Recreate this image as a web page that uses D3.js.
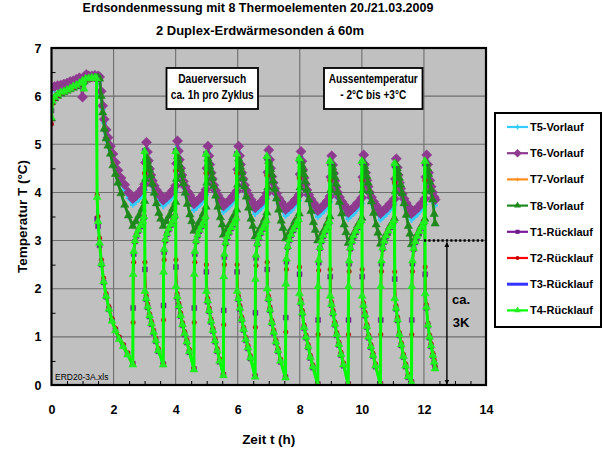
<!DOCTYPE html>
<html>
<head>
<meta charset="utf-8">
<script src="https://cdn.jsdelivr.net/npm/d3@7"></script>
<style>
  body { margin: 0; background: #fff; }
  svg text { font-family: "Liberation Sans", Arial, sans-serif; fill: #000; }
  .bold { font-weight: bold; }
</style>
</head>
<body>
<svg id="chart" width="604" height="452"></svg>
<script>
// axis ticks
const xTicks = [0, 2, 4, 6, 8, 10, 12, 14];
const yTicks = [0, 1, 2, 3, 4, 5, 6, 7];

// Vorlauf (T5..T8): shared time axis in hours
const vlZeit = [
  0, 0.1, 0.2, 0.3, 0.4, 0.5, 0.6, 0.7, 0.8, 0.9, 1.0, 1.05, 1.12, 1.2, 1.3, 1.4, 1.5, 1.55,
  1.6, 1.65, 1.7, 1.76, 1.82, 1.9, 1.98, 2.06, 2.14, 2.24, 2.36, 2.48, 2.62,
  2.72, 2.82, 2.92, 3.0, 3.03, 3.06, 3.09, 3.12, 3.16, 3.2, 3.25, 3.31, 3.38, 3.46, 3.52, 3.6,
  3.7, 3.8, 3.9, 4.0, 4.03, 4.06, 4.09, 4.12, 4.16, 4.2, 4.25, 4.31, 4.38, 4.46, 4.52, 4.59,
  4.69, 4.79, 4.89, 4.98, 5.01, 5.04, 5.07, 5.1, 5.14, 5.18, 5.23, 5.29, 5.36, 5.44, 5.5, 5.54,
  5.64, 5.74, 5.84, 5.97, 6.0, 6.03, 6.06, 6.09, 6.13, 6.17, 6.22, 6.28, 6.35, 6.43, 6.49, 6.56,
  6.66, 6.76, 6.86, 6.94, 6.97, 7.0, 7.03, 7.06, 7.1, 7.14, 7.19, 7.25, 7.32, 7.4, 7.46, 7.54,
  7.64, 7.74, 7.84, 7.98, 8.01, 8.04, 8.07, 8.1, 8.14, 8.18, 8.23, 8.29, 8.36, 8.44, 8.5, 8.58,
  8.68, 8.78, 8.88, 8.97, 9.0, 9.03, 9.06, 9.09, 9.13, 9.17, 9.22, 9.28, 9.35, 9.43, 9.49, 9.56,
  9.66, 9.76, 9.86, 10.0, 10.03, 10.06, 10.09, 10.12, 10.16, 10.2, 10.25, 10.31, 10.38, 10.46, 10.52, 10.6,
  10.7, 10.8, 10.9, 11.05, 11.08, 11.11, 11.14, 11.17, 11.21, 11.25, 11.3, 11.36, 11.43, 11.5, 11.55, 11.6,
  11.7, 11.8, 11.9, 12.03, 12.06, 12.09, 12.12, 12.15, 12.19, 12.23, 12.28, 12.33, 12.36
];

const t5 = [
  6.1, 6.14, 6.17, 6.19, 6.21, 6.23, 6.26, 6.28, 6.31, 6.34, 6.36, 6.37, 6.4, 6.39, 6.39, 6.4, 6.39, 6.37,
  6.02, 5.72, 5.44, 5.22, 5.05, 4.86, 4.7, 4.52, 4.36, 4.19, 4.04, 3.88, 3.74,
  3.8, 3.86, 3.94, 4.05, 4.5, 4.92, 4.72, 4.54, 4.37, 4.24, 4.12, 4.02, 3.93, 3.86, 3.8, 3.71,
  3.77, 3.83, 3.91, 4.02, 4.48, 4.95, 4.74, 4.56, 4.38, 4.24, 4.11, 4.0, 3.9, 3.82, 3.75, 3.63,
  3.69, 3.75, 3.83, 3.94, 4.38, 4.84, 4.64, 4.46, 4.29, 4.16, 4.03, 3.92, 3.82, 3.74, 3.68, 3.59,
  3.65, 3.71, 3.79, 3.91, 4.36, 4.84, 4.64, 4.46, 4.29, 4.16, 4.03, 3.92, 3.82, 3.73, 3.66, 3.55,
  3.61, 3.67, 3.75, 3.86, 4.3, 4.76, 4.56, 4.38, 4.21, 4.08, 3.96, 3.86, 3.76, 3.68, 3.62, 3.51,
  3.57, 3.63, 3.71, 3.83, 4.26, 4.73, 4.53, 4.35, 4.18, 4.05, 3.93, 3.83, 3.74, 3.66, 3.6, 3.49,
  3.55, 3.61, 3.69, 3.8, 4.2, 4.64, 4.45, 4.28, 4.12, 3.99, 3.88, 3.78, 3.69, 3.62, 3.56, 3.45,
  3.51, 3.57, 3.65, 3.77, 4.2, 4.66, 4.46, 4.29, 4.13, 4.0, 3.88, 3.78, 3.69, 3.61, 3.55, 3.43,
  3.49, 3.55, 3.63, 3.75, 4.16, 4.58, 4.4, 4.24, 4.08, 3.96, 3.85, 3.75, 3.66, 3.58, 3.52, 3.43,
  3.49, 3.55, 3.63, 3.75, 4.2, 4.66, 4.46, 4.29, 4.13, 4.0, 3.88, 3.78, 3.73
];

const t6 = [
  6.18, 6.2, 6.22, 6.23, 6.25, 6.27, 6.3, 6.32, 6.35, 6.38, 5.98, 6.4, 6.45, 6.42, 6.42, 6.43, 6.42, 6.4,
  6.1, 5.8, 5.52, 5.3, 5.14, 4.96, 4.8, 4.62, 4.46, 4.3, 4.16, 4.0, 3.87,
  3.93, 3.99, 4.07, 4.17, 4.62, 5.04, 4.84, 4.66, 4.49, 4.36, 4.24, 4.14, 4.05, 3.98, 3.92, 3.84,
  3.9, 3.96, 4.04, 4.14, 4.6, 5.07, 4.86, 4.68, 4.5, 4.36, 4.23, 4.12, 4.02, 3.94, 3.87, 3.76,
  3.82, 3.88, 3.96, 4.06, 4.5, 4.96, 4.76, 4.58, 4.41, 4.28, 4.15, 4.04, 3.94, 3.86, 3.8, 3.72,
  3.78, 3.84, 3.92, 4.03, 4.48, 4.96, 4.76, 4.58, 4.41, 4.28, 4.15, 4.04, 3.94, 3.85, 3.78, 3.68,
  3.74, 3.8, 3.88, 3.98, 4.42, 4.88, 4.68, 4.5, 4.33, 4.2, 4.08, 3.98, 3.88, 3.8, 3.74, 3.64,
  3.7, 3.76, 3.84, 3.95, 4.38, 4.85, 4.65, 4.47, 4.3, 4.17, 4.05, 3.95, 3.86, 3.78, 3.72, 3.62,
  3.68, 3.74, 3.82, 3.92, 4.32, 4.76, 4.57, 4.4, 4.24, 4.11, 4.0, 3.9, 3.81, 3.74, 3.68, 3.58,
  3.64, 3.7, 3.78, 3.89, 4.32, 4.78, 4.58, 4.41, 4.25, 4.12, 4.0, 3.9, 3.81, 3.73, 3.67, 3.56,
  3.62, 3.68, 3.76, 3.87, 4.28, 4.7, 4.52, 4.36, 4.2, 4.08, 3.97, 3.87, 3.78, 3.7, 3.64, 3.56,
  3.62, 3.68, 3.76, 3.87, 4.32, 4.78, 4.58, 4.41, 4.25, 4.12, 4.0, 3.9, 3.85
];

const t7 = [
  5.9, 5.98, 6.03, 6.07, 6.1, 6.13, 6.16, 6.19, 6.22, 6.26, 6.3, 6.32, 6.36, 6.37, 6.38, 6.39, 6.39, 6.37,
  6.03, 5.69, 5.36, 5.16, 5.0, 4.83, 4.6, 4.41, 4.23, 4.01, 3.77, 3.55, 3.33,
  3.43, 3.55, 3.69, 3.85, 4.32, 4.76, 4.68, 4.6, 4.5, 4.38, 4.21, 4.02, 3.8, 3.6, 3.48, 3.33,
  3.43, 3.55, 3.69, 3.83, 4.32, 4.78, 4.7, 4.61, 4.51, 4.39, 4.22, 4.02, 3.79, 3.57, 3.43, 3.23,
  3.33, 3.45, 3.59, 3.73, 4.24, 4.73, 4.65, 4.56, 4.46, 4.33, 4.16, 3.96, 3.73, 3.51, 3.36, 3.15,
  3.25, 3.37, 3.51, 3.67, 4.2, 4.73, 4.65, 4.56, 4.45, 4.32, 4.15, 3.94, 3.71, 3.48, 3.33, 3.11,
  3.21, 3.33, 3.47, 3.61, 4.14, 4.68, 4.6, 4.51, 4.4, 4.27, 4.1, 3.9, 3.67, 3.44, 3.29, 3.07,
  3.17, 3.29, 3.43, 3.59, 4.14, 4.68, 4.6, 4.51, 4.4, 4.26, 4.08, 3.88, 3.64, 3.41, 3.25, 3.03,
  3.13, 3.25, 3.39, 3.53, 4.09, 4.63, 4.55, 4.46, 4.35, 4.21, 4.03, 3.83, 3.59, 3.36, 3.2, 2.98,
  3.08, 3.2, 3.34, 3.5, 4.08, 4.65, 4.57, 4.48, 4.37, 4.23, 4.05, 3.84, 3.6, 3.36, 3.19, 2.96,
  3.06, 3.18, 3.32, 3.49, 4.06, 4.61, 4.53, 4.44, 4.33, 4.19, 4.01, 3.8, 3.56, 3.33, 3.17, 2.95,
  3.05, 3.17, 3.31, 3.48, 4.06, 4.63, 4.53, 4.41, 4.25, 4.09, 3.88, 3.58, 3.38
];

const t8 = [
  5.87, 5.95, 6.0, 6.05, 6.08, 6.11, 6.14, 6.17, 6.2, 6.24, 6.28, 6.3, 6.34, 6.36, 6.37, 6.38, 6.38, 6.36,
  6.0, 5.66, 5.32, 5.12, 4.97, 4.8, 4.56, 4.38, 4.2, 3.98, 3.74, 3.52, 3.3,
  3.4, 3.52, 3.66, 3.82, 4.28, 4.73, 4.65, 4.57, 4.47, 4.35, 4.18, 3.99, 3.77, 3.57, 3.45, 3.3,
  3.4, 3.52, 3.66, 3.8, 4.28, 4.75, 4.67, 4.58, 4.48, 4.36, 4.19, 3.99, 3.76, 3.54, 3.4, 3.2,
  3.3, 3.42, 3.56, 3.7, 4.2, 4.7, 4.62, 4.53, 4.43, 4.3, 4.13, 3.93, 3.7, 3.48, 3.33, 3.12,
  3.22, 3.34, 3.48, 3.64, 4.16, 4.7, 4.62, 4.53, 4.42, 4.29, 4.12, 3.91, 3.68, 3.45, 3.3, 3.08,
  3.18, 3.3, 3.44, 3.58, 4.1, 4.65, 4.57, 4.48, 4.37, 4.24, 4.07, 3.87, 3.64, 3.41, 3.26, 3.04,
  3.14, 3.26, 3.4, 3.56, 4.1, 4.65, 4.57, 4.48, 4.37, 4.23, 4.05, 3.85, 3.61, 3.38, 3.22, 3.0,
  3.1, 3.22, 3.36, 3.5, 4.05, 4.6, 4.52, 4.43, 4.32, 4.18, 4.0, 3.8, 3.56, 3.33, 3.17, 2.95,
  3.05, 3.17, 3.31, 3.47, 4.04, 4.62, 4.54, 4.45, 4.34, 4.2, 4.02, 3.81, 3.57, 3.33, 3.16, 2.93,
  3.03, 3.15, 3.29, 3.46, 4.02, 4.58, 4.5, 4.41, 4.3, 4.16, 3.98, 3.77, 3.53, 3.3, 3.14, 2.92,
  3.02, 3.14, 3.28, 3.45, 4.02, 4.6, 4.5, 4.38, 4.22, 4.06, 3.85, 3.55, 3.35
];

// Ruecklauf (T1..T4): shared time axis in hours
const rlZeit = [
  0, 0.03, 0.1, 0.2, 0.3, 0.4, 0.5, 0.6, 0.7, 0.8, 0.9, 1.0, 1.05, 1.1, 1.2, 1.3, 1.4, 1.45, 1.47, 1.5,
  1.55, 1.61, 1.68, 1.76, 1.85, 1.95, 2.06, 2.18, 2.31, 2.45, 2.62,
  2.63, 2.65, 2.69, 2.74, 2.8, 2.87, 2.94, 2.98, 3.0, 3.01, 3.05, 3.1, 3.16, 3.22, 3.29, 3.36, 3.44, 3.6,
  3.61, 3.63, 3.67, 3.72, 3.78, 3.85, 3.92, 3.98, 4.0, 4.01, 4.05, 4.1, 4.16, 4.22, 4.29, 4.36, 4.44, 4.59,
  4.6, 4.62, 4.66, 4.71, 4.77, 4.84, 4.91, 4.96, 4.98, 4.99, 5.03, 5.08, 5.14, 5.2, 5.27, 5.34, 5.42, 5.54,
  5.55, 5.57, 5.61, 5.66, 5.72, 5.79, 5.86, 5.95, 5.97, 5.98, 6.02, 6.07, 6.13, 6.19, 6.26, 6.33, 6.41, 6.56,
  6.57, 6.59, 6.63, 6.68, 6.74, 6.81, 6.88, 6.92, 6.94, 6.95, 6.99, 7.04, 7.1, 7.16, 7.23, 7.3, 7.38, 7.54,
  7.55, 7.57, 7.61, 7.66, 7.72, 7.79, 7.86, 7.96, 7.98, 7.99, 8.03, 8.08, 8.14, 8.2, 8.27, 8.34, 8.42, 8.58,
  8.59, 8.61, 8.65, 8.7, 8.76, 8.83, 8.9, 8.95, 8.97, 8.98, 9.02, 9.07, 9.13, 9.19, 9.26, 9.33, 9.41, 9.56,
  9.57, 9.59, 9.63, 9.68, 9.74, 9.81, 9.88, 9.98, 10.0, 10.01, 10.05, 10.1, 10.16, 10.22, 10.29, 10.36, 10.44, 10.6,
  10.61, 10.63, 10.67, 10.72, 10.78, 10.85, 10.92, 11.03, 11.05, 11.06, 11.1, 11.15, 11.21, 11.27, 11.34, 11.41, 11.49, 11.6,
  11.61, 11.63, 11.67, 11.72, 11.78, 11.85, 11.92, 12.01, 12.03, 12.04, 12.08, 12.13, 12.18, 12.23, 12.29, 12.33, 12.36
];

const t1 = [
  5.7, 5.88, 5.96, 6.03, 6.07, 6.1, 6.13, 6.16, 6.19, 6.22, 6.26, 6.3, 6.33, 6.35, 6.36, 6.37, 6.37, 6.36, 3.45, 3.3,
  2.9, 2.5, 2.13, 1.83, 1.57, 1.34, 1.14, 0.97, 0.82, 0.65, 0.44,
  1.6, 2.72, 2.98, 3.1, 3.2, 3.29, 3.38, 3.48, 4.86, 2.4, 1.78, 1.61, 1.42, 1.26, 1.08, 0.91, 0.7, 0.43,
  1.65, 2.76, 3.0, 3.13, 3.23, 3.32, 3.4, 3.5, 4.86, 2.45, 1.82, 1.63, 1.43, 1.24, 1.05, 0.88, 0.68, 0.33,
  1.6, 2.72, 2.98, 3.1, 3.2, 3.29, 3.38, 3.48, 4.8, 2.35, 1.73, 1.53, 1.31, 1.12, 0.9, 0.7, 0.48, 0.21,
  1.55, 2.66, 2.94, 3.06, 3.16, 3.25, 3.33, 3.45, 4.8, 2.35, 1.78, 1.58, 1.35, 1.14, 0.93, 0.76, 0.55, 0.18,
  1.5, 2.64, 2.92, 3.05, 3.15, 3.24, 3.32, 3.4, 4.72, 2.4, 1.78, 1.55, 1.28, 1.08, 0.88, 0.7, 0.48, 0.16,
  1.4, 2.56, 2.86, 3.0, 3.11, 3.21, 3.29, 3.42, 4.68, 2.3, 1.7, 1.48, 1.18, 0.98, 0.78, 0.56, 0.36, 0.02,
  1.35, 2.54, 2.84, 2.98, 3.09, 3.19, 3.28, 3.38, 4.62, 2.25, 1.66, 1.48, 1.25, 1.03, 0.83, 0.62, 0.4, 0.02,
  1.35, 2.52, 2.83, 2.97, 3.08, 3.18, 3.27, 3.4, 4.62, 2.25, 1.64, 1.44, 1.2, 0.98, 0.78, 0.6, 0.38, 0.02,
  1.35, 2.52, 2.83, 2.97, 3.08, 3.18, 3.27, 3.4, 4.56, 2.2, 1.58, 1.34, 1.03, 0.82, 0.58, 0.38, 0.16, 0.06,
  1.35, 2.52, 2.82, 2.96, 3.07, 3.17, 3.26, 3.38, 4.6, 2.3, 1.6, 1.23, 0.98, 0.8, 0.6, 0.46, 0.35
];

const t2 = [
  5.42, 5.85, 5.95, 6.02, 6.06, 6.09, 6.12, 6.15, 6.18, 6.21, 6.25, 6.29, 6.32, 6.34, 6.35, 6.36, 6.36, 6.35, 3.95, 3.5,
  3.05, 2.6, 2.22, 1.9, 1.63, 1.38, 1.18, 1.0, 0.84, 0.67, 0.45,
  1.3, 2.55, 2.98, 3.12, 3.23, 3.32, 3.41, 3.51, 4.4, 2.55, 1.86, 1.68, 1.48, 1.32, 1.14, 0.97, 0.76, 0.45,
  1.35, 2.6, 3.0, 3.15, 3.26, 3.35, 3.43, 3.53, 4.45, 2.6, 1.9, 1.7, 1.5, 1.3, 1.11, 0.94, 0.74, 0.35,
  1.3, 2.55, 2.98, 3.12, 3.23, 3.32, 3.41, 3.51, 4.4, 2.5, 1.8, 1.6, 1.37, 1.18, 0.96, 0.76, 0.54, 0.23,
  1.25, 2.5, 2.94, 3.08, 3.19, 3.28, 3.36, 3.48, 4.4, 2.5, 1.85, 1.65, 1.41, 1.2, 0.99, 0.82, 0.61, 0.2,
  1.2, 2.48, 2.92, 3.07, 3.18, 3.27, 3.35, 3.43, 4.35, 2.55, 1.85, 1.62, 1.34, 1.14, 0.94, 0.76, 0.54, 0.18,
  1.1, 2.4, 2.86, 3.02, 3.14, 3.24, 3.32, 3.45, 4.3, 2.45, 1.77, 1.55, 1.25, 1.04, 0.84, 0.62, 0.42, 0.03,
  1.05, 2.38, 2.84, 3.0, 3.12, 3.22, 3.31, 3.41, 4.25, 2.4, 1.73, 1.55, 1.31, 1.09, 0.89, 0.68, 0.46, 0.03,
  1.05, 2.36, 2.83, 2.99, 3.11, 3.21, 3.3, 3.43, 4.25, 2.4, 1.71, 1.51, 1.26, 1.04, 0.84, 0.66, 0.44, 0.03,
  1.05, 2.36, 2.83, 2.99, 3.11, 3.21, 3.3, 3.43, 4.2, 2.35, 1.65, 1.41, 1.09, 0.88, 0.64, 0.44, 0.22, 0.08,
  1.05, 2.36, 2.82, 2.98, 3.1, 3.2, 3.29, 3.41, 4.25, 2.45, 1.67, 1.29, 1.04, 0.86, 0.66, 0.52, 0.38
];

const t3 = [
  5.6, 5.88, 5.97, 6.03, 6.07, 6.1, 6.13, 6.16, 6.19, 6.22, 6.26, 6.31, 6.2, 6.35, 6.36, 6.37, 6.37, 6.36, 3.8, 3.38,
  2.93, 2.5, 2.13, 1.83, 1.56, 1.32, 1.12, 0.94, 0.79, 0.62, 0.41,
  2.2, 2.75, 2.99, 3.11, 3.21, 3.3, 3.39, 3.49, 4.8, 2.1, 1.79, 1.62, 1.43, 1.27, 1.09, 0.92, 0.71, 0.41,
  2.25, 2.8, 3.02, 3.14, 3.24, 3.33, 3.41, 3.51, 4.82, 2.2, 1.83, 1.64, 1.44, 1.25, 1.06, 0.89, 0.69, 0.31,
  2.2, 2.75, 2.99, 3.11, 3.21, 3.3, 3.39, 3.49, 4.76, 2.1, 1.74, 1.54, 1.32, 1.13, 0.91, 0.71, 0.49, 0.19,
  2.15, 2.7, 2.95, 3.07, 3.17, 3.26, 3.34, 3.46, 4.76, 2.1, 1.79, 1.59, 1.36, 1.15, 0.94, 0.77, 0.56, 0.16,
  2.1, 2.68, 2.93, 3.06, 3.16, 3.25, 3.33, 3.41, 4.7, 2.15, 1.79, 1.56, 1.29, 1.09, 0.89, 0.71, 0.49, 0.14,
  2.0, 2.6, 2.87, 3.01, 3.12, 3.22, 3.3, 3.43, 4.66, 2.05, 1.71, 1.49, 1.19, 0.99, 0.79, 0.57, 0.37, 0.0,
  1.95, 2.58, 2.85, 2.99, 3.1, 3.2, 3.29, 3.39, 4.6, 2.0, 1.67, 1.49, 1.26, 1.04, 0.84, 0.63, 0.41, 0.0,
  1.95, 2.56, 2.84, 2.98, 3.09, 3.19, 3.28, 3.41, 4.6, 2.0, 1.65, 1.45, 1.21, 0.99, 0.79, 0.61, 0.39, 0.0,
  1.95, 2.56, 2.84, 2.98, 3.09, 3.19, 3.28, 3.41, 4.55, 1.95, 1.59, 1.35, 1.04, 0.83, 0.59, 0.39, 0.17, 0.04,
  1.95, 2.56, 2.83, 2.97, 3.08, 3.18, 3.27, 3.39, 4.6, 2.05, 1.61, 1.24, 0.99, 0.81, 0.61, 0.47, 0.33
];

const t4 = [
  5.55, 5.9, 5.98, 6.04, 6.08, 6.1, 6.13, 6.16, 6.2, 6.23, 6.27, 6.32, 6.15, 6.36, 6.37, 6.38, 6.38, 6.37, 3.9, 3.4,
  2.95, 2.52, 2.15, 1.85, 1.58, 1.33, 1.13, 0.95, 0.8, 0.63, 0.42,
  2.3, 2.78, 3.0, 3.12, 3.22, 3.31, 3.4, 3.5, 4.85, 1.95, 1.8, 1.63, 1.44, 1.28, 1.1, 0.93, 0.72, 0.42,
  2.35, 2.82, 3.03, 3.15, 3.25, 3.34, 3.42, 3.52, 4.85, 2.05, 1.84, 1.65, 1.45, 1.26, 1.07, 0.9, 0.7, 0.32,
  2.3, 2.78, 3.0, 3.12, 3.22, 3.31, 3.4, 3.5, 4.8, 1.95, 1.75, 1.55, 1.33, 1.14, 0.92, 0.72, 0.5, 0.2,
  2.25, 2.72, 2.96, 3.08, 3.18, 3.27, 3.35, 3.47, 4.8, 1.95, 1.8, 1.6, 1.37, 1.16, 0.95, 0.78, 0.57, 0.17,
  2.2, 2.7, 2.94, 3.07, 3.17, 3.26, 3.34, 3.42, 4.75, 2.0, 1.8, 1.57, 1.3, 1.1, 0.9, 0.72, 0.5, 0.15,
  2.1, 2.62, 2.88, 3.02, 3.13, 3.23, 3.31, 3.44, 4.7, 1.9, 1.72, 1.5, 1.2, 1.0, 0.8, 0.58, 0.38, 0.0,
  2.05, 2.6, 2.86, 3.0, 3.11, 3.21, 3.3, 3.4, 4.65, 1.85, 1.68, 1.5, 1.27, 1.05, 0.85, 0.64, 0.42, 0.0,
  2.05, 2.58, 2.85, 2.99, 3.1, 3.2, 3.29, 3.42, 4.65, 1.85, 1.66, 1.46, 1.22, 1.0, 0.8, 0.62, 0.4, 0.0,
  2.05, 2.58, 2.85, 2.99, 3.1, 3.2, 3.29, 3.42, 4.6, 1.8, 1.6, 1.36, 1.05, 0.84, 0.6, 0.4, 0.18, 0.05,
  2.05, 2.58, 2.84, 2.98, 3.09, 3.19, 3.28, 3.4, 4.65, 1.9, 1.62, 1.25, 1.0, 0.82, 0.62, 0.48, 0.34
];

// series styling, in drawing order (= legend order)
const series = [
  { name: "T5-Vorlauf",  zeit: vlZeit, werte: t5, color: "#33ccff", width: 3,   marker: d3.symbolCross,    size: 18, fill: "#33ccff" },
  { name: "T6-Vorlauf",  zeit: vlZeit, werte: t6, color: "#8e3a8e", width: 2.5, marker: d3.symbolSquare,   size: 52, fill: "#8e3a8e", rot: 45 },
  { name: "T7-Vorlauf",  zeit: vlZeit, werte: t7, color: "#ff8c1a", width: 1.5, marker: d3.symbolCross,    size: 10, fill: "#ff8c1a" },
  { name: "T8-Vorlauf",  zeit: vlZeit, werte: t8, color: "#1e8a1e", width: 2.8, marker: d3.symbolTriangle, size: 30, fill: "#1e8a1e" },
  { name: "T1-Rücklauf", zeit: rlZeit, werte: t1, color: "#7a1a9a", width: 1.5, marker: d3.symbolSquare,   size: 24, fill: "#6a1a8a" },
  { name: "T2-Rücklauf", zeit: rlZeit, werte: t2, color: "#ff0000", width: 1.8, marker: d3.symbolCircle,   size: 16, fill: "#c00000" },
  { name: "T3-Rücklauf", zeit: rlZeit, werte: t3, color: "#3333ff", width: 1.8, marker: null },
  { name: "T4-Rücklauf", zeit: rlZeit, werte: t4, color: "#00ff00", width: 3,   marker: d3.symbolTriangle, size: 28, fill: "#22ee22" }
];

const svg = d3.select("#chart");
const plot = { left: 51.5, right: 486, top: 48, bottom: 385 };

const x = d3.scaleLinear().domain([0, 14]).range([plot.left, plot.right]);
const y = d3.scaleLinear().domain([0, 7]).range([plot.bottom, plot.top]);

svg.append("rect").attr("width", 604).attr("height", 452).attr("fill", "#fff");

// titles
svg.append("text").attr("class", "bold")
  .attr("x", 258).attr("y", 12).attr("text-anchor", "middle")
  .style("font-size", "12.5px")
  .text("Erdsondenmessung mit 8 Thermoelementen 20./21.03.2009");
svg.append("text").attr("class", "bold")
  .attr("x", 260).attr("y", 35).attr("text-anchor", "middle")
  .style("font-size", "13px")
  .text("2 Duplex-Erdwärmesonden á 60m");

// plot background
svg.append("rect")
  .attr("x", plot.left).attr("y", plot.top)
  .attr("width", plot.right - plot.left).attr("height", plot.bottom - plot.top)
  .attr("fill", "#c0c0c0");

// grid
const grid = svg.append("g").attr("stroke", "#6e6e6e").attr("stroke-width", 1.1);
grid.selectAll(".gx").data(xTicks.slice(1, -1)).enter().append("line")
  .attr("x1", d => x(d)).attr("x2", d => x(d))
  .attr("y1", plot.top).attr("y2", plot.bottom);
grid.selectAll(".gy").data(yTicks.slice(1, -1)).enter().append("line")
  .attr("x1", plot.left).attr("x2", plot.right)
  .attr("y1", d => y(d)).attr("y2", d => y(d));

// minor ticks pointing inwards
const xMinor = d3.range(0.5, 14, 0.5).filter(v => v % 2 !== 0);
const yMinor = d3.range(0.5, 7, 1);
svg.append("g").attr("transform", `translate(0,${plot.bottom})`)
  .call(d3.axisBottom(x).tickValues(xMinor).tickSize(-4).tickFormat(""))
  .call(g => g.select(".domain").remove())
  .selectAll("line").attr("stroke", "#000");
svg.append("g").attr("transform", `translate(${plot.left},0)`)
  .call(d3.axisLeft(y).tickValues(yMinor).tickSize(-4).tickFormat(""))
  .call(g => g.select(".domain").remove())
  .selectAll("line").attr("stroke", "#000");

// tick labels
svg.append("g").attr("transform", `translate(0,${plot.bottom + 17})`)
  .call(d3.axisBottom(x).tickValues(xTicks).tickSize(0).tickFormat(d3.format("d")))
  .call(g => g.select(".domain").remove())
  .selectAll("text").attr("class", "bold")
  .style("font-size", "12.5px").style("font-family", "Liberation Sans, Arial, sans-serif");
svg.append("g").attr("transform", `translate(${plot.left - 7},0)`)
  .call(d3.axisLeft(y).tickValues(yTicks).tickSize(0).tickFormat(d3.format("d")))
  .call(g => g.select(".domain").remove())
  .selectAll("text").attr("class", "bold")
  .style("font-size", "12.5px").style("font-family", "Liberation Sans, Arial, sans-serif");

// axis titles
svg.append("text").attr("class", "bold")
  .attr("x", (plot.left + plot.right) / 2).attr("y", 444).attr("text-anchor", "middle")
  .style("font-size", "13.5px").text("Zeit t (h)");
svg.append("text").attr("class", "bold")
  .attr("transform", `translate(27,${(plot.top + plot.bottom) / 2}) rotate(-90)`)
  .attr("text-anchor", "middle")
  .style("font-size", "13.5px").text("Temperatur T (°C)");

// data
svg.append("defs").append("clipPath").attr("id", "clip")
  .append("rect").attr("x", plot.left).attr("y", plot.top - 6)
  .attr("width", plot.right - plot.left).attr("height", plot.bottom - plot.top + 6);

const dataLayer = svg.append("g").attr("clip-path", "url(#clip)");

series.forEach(s => {
  const pts = s.zeit.map((t, i) => [t, s.werte[i]]);
  const line = d3.line().x(d => x(d[0])).y(d => y(d[1]));
  const g = dataLayer.append("g");
  g.append("path").datum(pts)
    .attr("d", line)
    .attr("fill", "none")
    .attr("stroke", s.color)
    .attr("stroke-width", s.width)
    .attr("stroke-linejoin", "round");
  if (s.marker) {
    const sym = d3.symbol().type(s.marker).size(s.size);
    g.selectAll("path.m").data(pts).enter().append("path")
      .attr("class", "m")
      .attr("d", sym)
      .attr("transform", d => `translate(${x(d[0])},${y(d[1])})` + (s.rot ? ` rotate(${s.rot})` : ""))
      .attr("fill", s.fill)
      .attr("stroke", s.marker === d3.symbolCross ? "none" : s.fill)
      .attr("stroke-width", 0.5);
  }
});

// source file note
svg.append("text").attr("x", plot.left + 3.5).attr("y", plot.bottom - 5)
  .style("font-size", "8.5px").text("ERD20-3A.xls");

// plot frame
svg.append("rect")
  .attr("x", plot.left).attr("y", plot.top)
  .attr("width", plot.right - plot.left).attr("height", plot.bottom - plot.top)
  .attr("fill", "none").attr("stroke", "#000").attr("stroke-width", 2.2);

// annotation boxes (condensed bold text, widths as in the original)
const notes = [
  { x0: 166.5, x1: 258, lines: [["Dauerversuch", 68], ["ca. 1h pro Zyklus", 83]] },
  { x0: 324, x1: 422.5, lines: [["Aussentemperatur", 89], ["- 2°C bis +3°C", 66]] }
];
notes.forEach(n => {
  svg.append("rect").attr("x", n.x0).attr("y", 68).attr("width", n.x1 - n.x0).attr("height", 41)
    .attr("fill", "#fff").attr("stroke", "#000").attr("stroke-width", 1.8);
  n.lines.forEach(([l, w], i) => {
    svg.append("text").attr("class", "bold")
      .attr("x", (n.x0 + n.x1) / 2).attr("y", 83 + i * 16).attr("text-anchor", "middle")
      .attr("textLength", w).attr("lengthAdjust", "spacingAndGlyphs")
      .style("font-size", "12px").text(l);
  });
});

// "ca. 3K" marker: dotted level line and double arrow
const defs = svg.select("defs");
defs.append("marker").attr("id", "ah").attr("viewBox", "0 0 10 10")
  .attr("refX", 9).attr("refY", 5).attr("markerWidth", 5).attr("markerHeight", 5)
  .attr("orient", "auto-start-reverse").attr("markerUnits", "userSpaceOnUse")
  .append("path").attr("d", "M0,0 L10,5 L0,10 Z").attr("fill", "#000");

svg.append("line")
  .attr("x1", x(12.0)).attr("x2", x(13.95)).attr("y1", y(3)).attr("y2", y(3))
  .attr("stroke", "#000").attr("stroke-width", 2.6).attr("stroke-dasharray", "2.2 2.2");
svg.append("line")
  .attr("x1", x(12.74)).attr("x2", x(12.74)).attr("y1", y(3) + 2).attr("y2", y(0) - 1)
  .attr("stroke", "#000").attr("stroke-width", 1.4)
  .attr("marker-start", "url(#ah)").attr("marker-end", "url(#ah)");
svg.append("text").attr("class", "bold").attr("x", 461).attr("y", 304)
  .attr("text-anchor", "middle").style("font-size", "13px").text("ca.");
svg.append("text").attr("class", "bold").attr("x", 461).attr("y", 327)
  .attr("text-anchor", "middle").style("font-size", "13px").text("3K");

// legend
const lg = svg.append("g");
lg.append("rect").attr("x", 495).attr("y", 113).attr("width", 106).attr("height", 214)
  .attr("fill", "#fff").attr("stroke", "#000").attr("stroke-width", 2);
series.forEach((s, i) => {
  const cy = 127 + i * 26.2;
  lg.append("line").attr("x1", 507).attr("x2", 528).attr("y1", cy).attr("y2", cy)
    .attr("stroke", s.color).attr("stroke-width", s.marker ? 2.2 : 3);
  if (s.marker) {
    lg.append("path").attr("d", d3.symbol().type(s.marker).size(s.size * 0.7))
      .attr("transform", `translate(517.5,${cy})` + (s.rot ? ` rotate(${s.rot})` : ""))
      .attr("fill", s.fill);
  }
  lg.append("text").attr("class", "bold").attr("x", 530).attr("y", cy).attr("dy", "0.36em")
    .style("font-size", "11px").text(s.name);
});
</script>
</body>
</html>
